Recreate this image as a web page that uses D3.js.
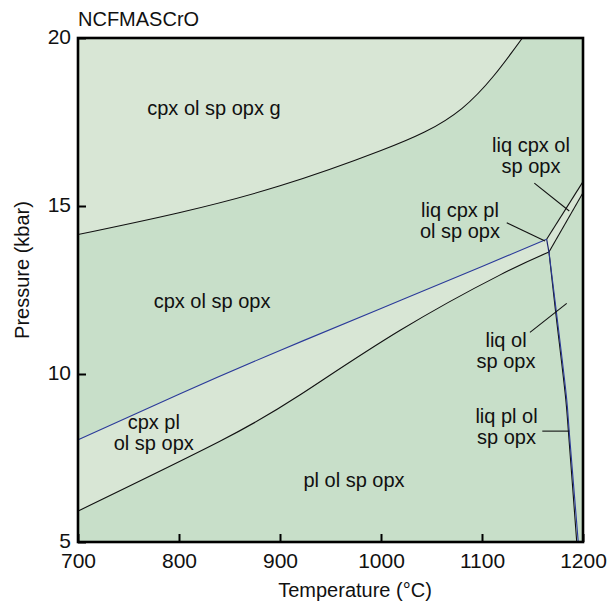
<!DOCTYPE html>
<html>
<head>
<meta charset="utf-8">
<script src="https://cdn.jsdelivr.net/npm/d3@7"></script>
<style>
  html, body { margin: 0; padding: 0; background: #fff; }
  svg text { font-family: "Liberation Sans", Arial, Helvetica, sans-serif; fill: #111; }
</style>
</head>
<body>
<svg id="chart" width="614" height="605"></svg>
<script>
// ---------------- DATA ----------------
const xTicks = [700, 800, 900, 1000, 1100, 1200];
const yTicks = [5, 10, 15, 20];

// garnet-in boundary (upper black curve)
const garnetT = [700, 800, 900, 1000, 1080, 1140];
const garnetP = [14.15, 14.8, 15.6, 16.65, 17.9, 20.0];

// plagioclase-in boundary (blue curve)
const plagT = [700, 800, 900, 1000, 1100, 1164];
const plagP = [8.04, 9.4, 10.7, 11.95, 13.2, 14.01];

// lower black boundary of the cpx-pl band
const bandT = [700, 840, 920, 1019, 1118, 1166.3];
const bandP = [5.92, 7.99, 9.38, 11.3, 12.95, 13.63];

// solidus (blue) descending to 5 kbar
const solidusT = [1166.3, 1173.3, 1183.9, 1186.4, 1195.3];
const solidusP = [13.63, 11.93, 9.23, 8.27, 5.0];

// companion black line close to the solidus
const solidus2T = [1166.3, 1172.6, 1183.0, 1185.6, 1193.8];
const solidus2P = [13.63, 11.93, 9.23, 8.27, 5.0];

// two liquid boundaries rising to the right edge
const liqUpperT = [1164, 1199.7];
const liqUpperP = [14.01, 15.71];
const liqLowerT = [1166.3, 1199.7];
const liqLowerP = [13.63, 15.38];

// region labels (lines of text)
const labelTexts = [
  ["cpx ol sp opx g"],
  ["cpx ol sp opx"],
  ["cpx pl", "ol sp opx"],
  ["pl ol sp opx"],
  ["liq cpx ol", "sp opx"],
  ["liq cpx pl", "ol sp opx"],
  ["liq ol", "sp opx"],
  ["liq pl ol", "sp opx"]
];

// ---------------- CHART ----------------
const svg = d3.select("#chart");
const mL = 78, mR = 583, mT = 38, mB = 542;
const x = d3.scaleLinear().domain([700, 1200]).range([mL, mR]);
const y = d3.scaleLinear().domain([5, 20]).range([mB, mT]);

const LIGHT = "#d8e6d5", DARK = "#c8dfc9";

const zip = (T, P) => T.map((t, i) => [t, P[i]]);
const line = d3.line().x(d => x(d[0])).y(d => y(d[1])).curve(d3.curveNatural);
const lineCR = d3.line().x(d => x(d[0])).y(d => y(d[1])).curve(d3.curveCatmullRom);
const straight = d3.line().x(d => x(d[0])).y(d => y(d[1]));

const garnet = zip(garnetT, garnetP);
const plag = zip(plagT, plagP);
const band = zip(bandT, bandP);
const sol = zip(solidusT, solidusP);
const sol2 = zip(solidus2T, solidus2P);
const liqU = zip(liqUpperT, liqUpperP);
const liqL = zip(liqLowerT, liqLowerP);

const g = svg.append("g");
const defs = svg.append("defs");
defs.append("clipPath").attr("id", "clip").append("rect")
  .attr("x", mL).attr("y", mT).attr("width", mR - mL).attr("height", mB - mT);
const plot = g.append("g").attr("clip-path", "url(#clip)");

// background
plot.append("rect").attr("x", mL).attr("y", mT).attr("width", mR - mL).attr("height", mB - mT).attr("fill", DARK);

// top light region (above garnet line)
const gPath = line(garnet);
plot.append("path")
  .attr("d", gPath + `L${x(700)},${y(20)}Z`)
  .attr("fill", LIGHT);

// light band between blue line and lower black line
const bandRev = band.slice().reverse();
plot.append("path")
  .attr("d", line(plag) + "L" + line(bandRev).slice(1) + "Z")
  .attr("fill", LIGHT);

// light band between liquid lines
plot.append("path")
  .attr("d", straight([liqU[0], liqU[1], liqL[1], liqL[0]]) + "Z")
  .attr("fill", LIGHT);

// lines
const stroke = (d, c, w) => plot.append("path").attr("d", d).attr("fill", "none").attr("stroke", c).attr("stroke-width", w);
stroke(gPath, "#111", 1.1);
stroke(line(band), "#111", 1.1);
stroke(straight(liqU), "#111", 1.1);
stroke(straight(liqL), "#111", 1.1);
stroke(lineCR(sol2), "#111", 1.1);
stroke(line(plag), "#2b3a9a", 1.1);
stroke(straight([plag[plag.length - 1], sol[0]]), "#1d2570", 1.2);
stroke(lineCR(sol), "#2b3a9a", 1.1);

// leader lines (data coords)
const leaders = [
  [[1151.8, 15.68], [1186.4, 14.85]],
  [[1124.5, 14.50], [1162.4, 13.96]],
  [[1147.5, 11.24], [1183.9, 12.10]],
  [[1159.7, 8.30], [1186.4, 8.30]]
];
leaders.forEach(l => stroke(straight(l), "#111", 1.1));

// labels
const labelPos = [
  [834.6, 17.71], [832.7, 11.96], [775, 8.36], [973.3, 6.64],
  [1148.5, 16.61], [1078.2, 14.67], [1123.8, 10.80], [1124.3, 8.54]
];
const lineH = 21;
labelTexts.forEach((lines, i) => {
  const [t, p] = labelPos[i];
  const txt = g.append("text").attr("text-anchor", "middle").attr("font-size", 20);
  lines.forEach((s, j) => {
    txt.append("tspan").attr("x", x(t)).attr("y", y(p) + j * lineH).text(s);
  });
});

// axes frame
g.append("rect").attr("x", mL).attr("y", mT).attr("width", mR - mL).attr("height", mB - mT)
  .attr("fill", "none").attr("stroke", "#000").attr("stroke-width", 2.6);

// ticks (inward)
const xAxis = d3.axisTop(x).tickValues(xTicks).tickSize(8).tickFormat(d3.format("d"));
const xa = g.append("g").attr("transform", `translate(0,${mB})`).call(xAxis);
xa.select(".domain").remove();
xa.selectAll("line").attr("stroke", "#000").attr("stroke-width", 2);
xa.selectAll("text").attr("y", 0).attr("dy", "1.25em").attr("font-size", 21).attr("fill", "#111")
  .attr("font-family", "Liberation Sans, Arial, sans-serif");

const yAxis = d3.axisRight(y).tickValues(yTicks).tickSize(8).tickFormat(d3.format("d"));
const ya = g.append("g").attr("transform", `translate(${mL},0)`).call(yAxis);
ya.select(".domain").remove();
ya.selectAll("line").attr("stroke", "#000").attr("stroke-width", 2);
ya.selectAll("text").attr("x", -7).attr("dy", "0.25em").attr("text-anchor", "end").attr("font-size", 21).attr("fill", "#111")
  .attr("font-family", "Liberation Sans, Arial, sans-serif");

// titles
g.append("text").attr("x", mL).attr("y", 26).attr("font-size", 20).text("NCFMASCrO");
g.append("text").attr("x", 355).attr("y", 597).attr("text-anchor", "middle").attr("font-size", 20).text("Temperature (°C)");
g.append("text").attr("transform", `translate(29,270) rotate(-90)`).attr("text-anchor", "middle").attr("font-size", 20).text("Pressure (kbar)");
</script>
</body>
</html>
